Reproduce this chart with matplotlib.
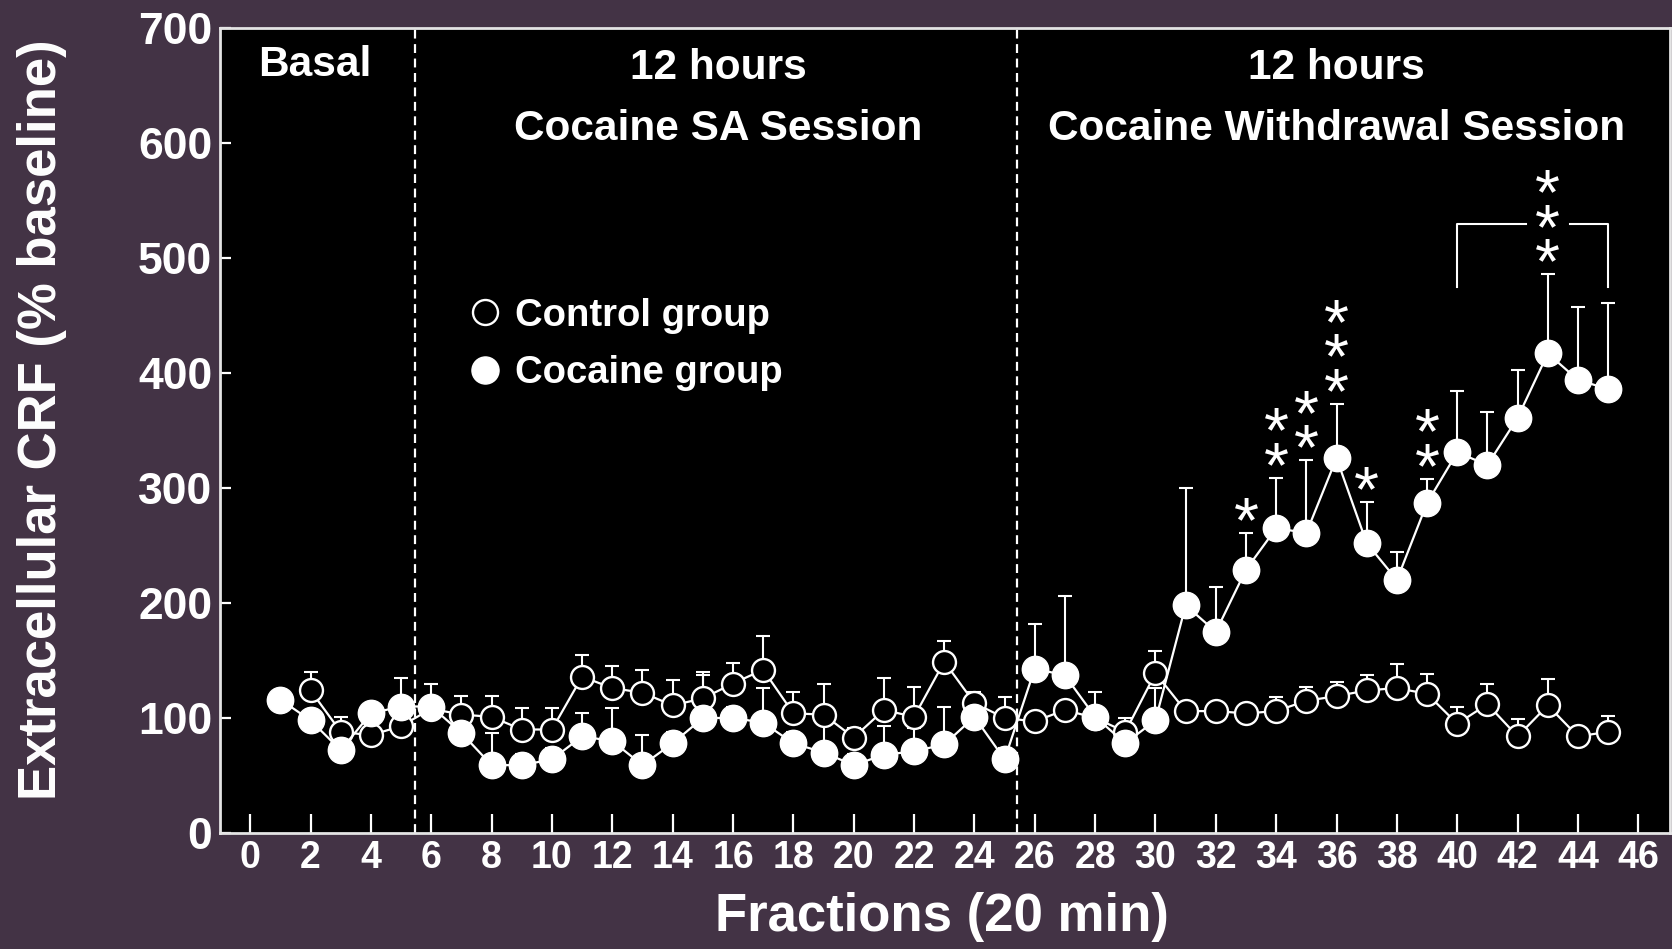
import matplotlib
matplotlib.use("Agg")
import matplotlib.pyplot as plt
from matplotlib.lines import Line2D
import numpy as np

plt.rcParams['font.family'] = ['Liberation Sans', 'DejaVu Sans']
plt.rcParams['font.weight'] = 'bold'
plt.rcParams['axes.labelweight'] = 'bold'

# ---- data -------------------------------------------------------------
cocaine_fraction = list(range(1, 46))
cocaine_mean = [116, 98, 72, 104, 110, 110, 87, 59, 59, 64,
                84, 80, 59, 78, 100, 100, 96, 78, 70, 59,
                68, 71, 77, 101, 64, 143, 137, 101, 78, 98,
                198, 175, 229, 265, 261, 326, 252, 220, 287, 331,
                320, 361, 417, 394, 386]
cocaine_sem = [8, 8, 8, 8, 25, 8, 10, 28, 10, 10,
               20, 29, 26, 10, 40, 10, 30, 10, 25, 10,
               25, 20, 33, 10, 10, 39, 69, 8, 8, 28,
               102, 39, 32, 44, 63, 47, 36, 24, 21, 53,
               46, 42, 69, 63, 75]

control_fraction = list(range(2, 46))
control_mean = [124, 88, 85, 93, 108, 103, 101, 90, 90, 136,
                126, 122, 111, 117, 130, 142, 104, 103, 83, 107,
                101, 149, 113, 100, 97, 107, 100, 88, 139, 106,
                106, 104, 106, 115, 119, 124, 126, 121, 95, 112,
                84, 111, 84, 88]
control_sem = [16, 13, 8, 8, 22, 16, 18, 19, 19, 19,
               19, 20, 22, 20, 18, 29, 19, 27, 8, 28,
               26, 18, 10, 18, 8, 8, 23, 12, 19, 6,
               6, 8, 12, 12, 12, 13, 21, 17, 15, 18,
               15, 23, 6, 14]

# significance markers (fraction -> number of asterisks)
single_stars = {33: 1, 34: 2, 35: 2, 36: 3, 37: 1, 39: 2}
bracket_span = (40, 45)
bracket_peak = 43
bracket_stars = 3

session_breaks = [5.45, 25.4]
x_ticks = list(range(0, 47, 2))
y_ticks = list(range(0, 701, 100))

# ---- styling ----------------------------------------------------------
BG = '#433345'
W = 'white'

fig = plt.figure(figsize=(16.72, 9.49), dpi=100, facecolor=BG)
ax = fig.add_axes([220 / 1672, 1 - 833 / 949, 1450 / 1672, (833 - 28) / 949])
ax.set_facecolor('black')
ax.set_xlim(-1, 47.05)
ax.set_ylim(0, 700)

for sp in ax.spines.values():
    sp.set_color('#e4e4e4')
    sp.set_linewidth(2)

ax.set_xticks(x_ticks)
ax.set_yticks(y_ticks)
ax.tick_params(axis='x', direction='in', length=13.5, width=1.6, color=W,
               labelcolor=W, labelsize=27, pad=5)
ax.tick_params(axis='y', direction='in', length=8, width=1.6, color=W,
               labelcolor=W, labelsize=32, pad=5.5)

# session boundaries
for xb in session_breaks:
    ax.axvline(xb, color=W, lw=1.6, ls=(0, (4, 2.5)), zorder=1)

# error bars (upper only)
cm = np.array(control_mean)
cs = np.array(control_sem)
km = np.array(cocaine_mean)
ks = np.array(cocaine_sem)

ax.errorbar(control_fraction, cm, yerr=[np.zeros_like(cs), cs], fmt='none',
            ecolor=W, elinewidth=1.5, capsize=5, capthick=1.5, zorder=1.5)
ax.errorbar(cocaine_fraction, km, yerr=[np.zeros_like(ks), ks], fmt='none',
            ecolor=W, elinewidth=1.5, capsize=5, capthick=1.5, zorder=2)

ax.plot(control_fraction, cm, '-o', color=W, lw=1.6, ms=16.5,
        mfc='black', mec=W, mew=1.7, zorder=3)
ax.plot(cocaine_fraction, km, '-o', color=W, lw=1.6, ms=19,
        mfc=W, mec=W, mew=1, zorder=4)

# asterisks: each column is one multi-line text, anchored at its bottom
STAR_FS = 46
STAR_GAP = 25          # data units between stacked asterisks
STAR_LIFT = 19         # first asterisk above the error-bar cap
STAR_LS = 0.46


def star_column(x, y_lowest, n):
    ax.annotate('\n'.join(['*'] * n), xy=(x, y_lowest),
                xytext=(0, -0.69 * STAR_FS), textcoords='offset points',
                ha='center', va='bottom', linespacing=STAR_LS,
                fontsize=STAR_FS, fontweight='normal', color=W, zorder=6)


for fx, n in single_stars.items():
    i = cocaine_fraction.index(fx)
    top = km[i] + ks[i]
    star_column(fx, top + STAR_LIFT, n)

# bracket over the last fractions
lo, hi = bracket_span
span_idx = [cocaine_fraction.index(f) for f in range(lo, hi + 1)]
bracket_y = max(km[span_idx] + ks[span_idx]) + 44
drop = 55
gap = 0.72
ax.plot([lo, lo, bracket_peak - gap], [bracket_y - drop, bracket_y, bracket_y],
        color=W, lw=1.5, zorder=5)
ax.plot([bracket_peak + gap, hi, hi], [bracket_y, bracket_y, bracket_y - drop],
        color=W, lw=1.5, zorder=5)
star_column(bracket_peak, bracket_y - STAR_GAP, bracket_stars)

# session titles
TFS = 30.5
ax.text(2.15, 668, 'Basal', ha='center', va='center', fontsize=TFS, color=W)
ax.text(15.5, 665, '12 hours', ha='center', va='center', fontsize=TFS, color=W)
ax.text(15.5, 612, 'Cocaine SA Session', ha='center', va='center',
        fontsize=TFS, color=W)
ax.text(36.0, 665, '12 hours', ha='center', va='center', fontsize=TFS, color=W)
ax.text(36.0, 612, 'Cocaine Withdrawal Session', ha='center', va='center',
        fontsize=TFS, color=W)

# legend
handles = [
    Line2D([], [], ls='none', marker='o', ms=18, mfc='black', mec=W, mew=1.7),
    Line2D([], [], ls='none', marker='o', ms=19.5, mfc=W, mec=W, mew=1),
]
leg = ax.legend(handles, ['Control group', 'Cocaine group'],
                loc='upper left', bbox_to_anchor=(466 / 1672, 1 - 297.5 / 949),
                bbox_transform=fig.transFigure, frameon=False,
                fontsize=27.5, labelcolor=W, handlelength=1.0,
                handletextpad=0.29, labelspacing=0.565, borderpad=0,
                borderaxespad=0)

# axis titles
ax.set_ylabel('Extracellular CRF (% baseline)', fontsize=38, color=W,
              va='center', fontweight='bold')
ax.yaxis.set_label_coords(-0.1228, 0.513)
ax.set_xlabel('Fractions (20 min)', fontsize=38, color=W, va='center',
              fontweight='bold')
ax.xaxis.set_label_coords(0.498, -0.104)

fig.savefig('out.png', dpi=100, facecolor=fig.get_facecolor())
